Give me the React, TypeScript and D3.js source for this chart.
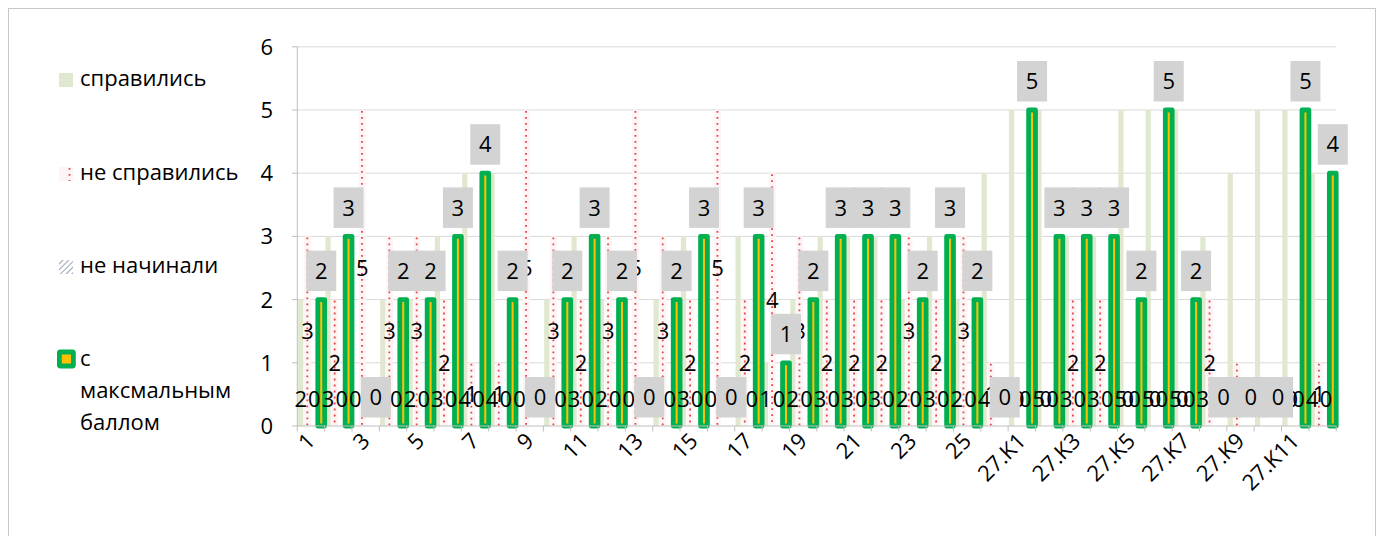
import * as d3 from 'd3'

// категории заданий
const categories = [
  '1', '2', '3', '4', '5', '6', '7', '8', '9', '10', '11', '12', '13',
  '14', '15', '16', '17', '18', '19', '20', '21', '22', '23', '24', '25', '26',
  '27.K1', '27.K2', '27.K3', '27.K4', '27.K5', '27.K6',
  '27.K7', '27.K8', '27.K9', '27.K10', '27.K11', '27.K12'
]

// справились
const passed = [2, 3, 0, 2, 2, 3, 4, 4, 0, 2, 3, 2, 0, 2, 3, 0, 3, 1, 2, 3, 3, 3, 2, 3, 2, 4,
  5, 5, 3, 3, 5, 5, 5, 3, 4, 5, 5, 4]
// не справились
const failed = [3, 2, 5, 3, 3, 2, 1, 1, 5, 3, 2, 3, 5, 3, 2, 5, 2, 4, 3, 2, 2, 2, 3, 2, 3, 1,
  0, 0, 2, 2, 0, 0, 0, 2, 1, 0, 0, 1]
// не начинали
const notStarted = [0, 0, 0, 0, 0, 0, 0, 0, 0, 0, 0, 0, 0, 0, 0, 0, 0, 0, 0, 0, 0, 0, 0, 0, 0, 0,
  0, 0, 0, 0, 0, 0, 0, 0, 0, 0, 0, 0]
// с максимальным баллом
const maxScore = [2, 3, 0, 2, 2, 3, 4, 2, 0, 2, 3, 2, 0, 2, 3, 0, 3, 1, 2, 3, 3, 3, 2, 3, 2, 0,
  5, 3, 3, 3, 2, 5, 2, 0, 0, 0, 5, 4]

const yTicks = [0, 1, 2, 3, 4, 5, 6]
const legendLabels = ['справились', 'не справились', 'не начинали', 'с максмальным баллом']

const FONT = "'Open Sans', sans-serif"
const FS = 22
const GREEN = '#00b050'
const YELLOW = '#ffc000'
const LIGHT = '#e0e9d0'
const RED = '#e8454a'
const BOX = '#d3d3d3'

export default function App() {
  const x = d3.scaleBand<string>().domain(categories).range([297.3, 1336.2]).paddingInner(0).paddingOuter(0)
  const sub = d3.scaleBand<string>().domain(['s', 'n', 'h', 'm']).range([0, x.bandwidth()])
  const y = d3.scaleLinear().domain([0, 6]).range([426, 46.8])
  const y0 = y(0)
  const sw = sub.bandwidth()

  const digitDy = 7.9 // baseline shift so that digits are centred
  const baseRowY = 399

  const sx = (c: string, k: string) => (x(c) as number) + (sub(k) as number)

  return (
    <svg width={1368} height={528} style={{ display: 'block' }} fontFamily={FONT} fontSize={FS}>
      <g transform="translate(-8,-8)">
        <rect x={8.5} y={8.5} width={1367} height={700} fill="#fff" stroke="#c8c8c8" />

        {/* grid */}
        {yTicks.filter(t => t > 0).map(t => (
          <line key={'g' + t} x1={297.3} x2={1336.2} y1={y(t)} y2={y(t)} stroke="#d9d9d9" strokeWidth={1} />
        ))}
        {/* y axis */}
        <line x1={297.3} x2={297.3} y1={y(6)} y2={y0} stroke="#bfbfbf" />
        {yTicks.map(t => (
          <g key={'yt' + t}>
            <line x1={292} x2={297.3} y1={y(t)} y2={y(t)} stroke="#bfbfbf" />
            <text x={273} y={y(t) + digitDy} textAnchor="end">{t}</text>
          </g>
        ))}

        {/* справились */}
        {categories.map((c, i) => (
          <rect key={'s' + c} x={sx(c, 's') + 0.8} width={sw - 1.6} y={y(passed[i])}
            height={y0 - y(passed[i])} fill={LIGHT} />
        ))}
        {/* не справились */}
        {categories.map((c, i) => failed[i] > 0 && (
          <g key={'n' + c}>
            <rect x={sx(c, 'n')} width={sw} y={y(failed[i])} height={y0 - y(failed[i])} fill="#fdf5f5" />
            <line x1={sx(c, 'n') + 3.2} x2={sx(c, 'n') + 3.2} y1={y(failed[i]) + 1} y2={y0}
              stroke={RED} strokeWidth={1.8} strokeDasharray="1.8 4.2" />
          </g>
        ))}
        {/* с максимальным баллом */}
        {categories.map((c, i) => maxScore[i] > 0 && (
          <rect key={'m' + c} x={sx(c, 'm')} width={sw} y={y(maxScore[i])}
            height={y0 - y(maxScore[i])} fill={YELLOW} stroke={GREEN} strokeWidth={4.8}
            strokeLinejoin="round" />
        ))}

        {/* x axis */}
        <line x1={297.3} x2={1336.2} y1={y0} y2={y0} stroke="#bfbfbf" />
        {[...categories.map(c => x(c) as number), 1336.2].map((v, i) => (
          <line key={'xt' + i} x1={v} x2={v} y1={y0} y2={y0 + 5.5} stroke="#bfbfbf" />
        ))}
        {categories.map((c, i) => i % 2 === 0 && (
          <text key={'xl' + c} textAnchor="end" dy="0.35em"
            transform={`translate(${(x(c) as number) + x.bandwidth() / 2},437) rotate(-45)`}>{c}</text>
        ))}

        {/* подписи: справились */}
        {categories.map((c, i) => (
          <text key={'sl' + c} x={sx(c, 's') + sw / 2} y={baseRowY + digitDy} textAnchor="middle">{passed[i]}</text>
        ))}
        {/* подписи: не справились */}
        {categories.map((c, i) => (
          <text key={'nl' + c} x={sx(c, 'n') + sw / 2}
            y={Math.min(y(failed[i] / 2), baseRowY) + digitDy} textAnchor="middle">{failed[i]}</text>
        ))}
        {/* подписи: не начинали */}
        {categories.map((c, i) => (
          <text key={'hl' + c} x={sx(c, 'h') + sw / 2} y={baseRowY + digitDy} textAnchor="middle">{notStarted[i]}</text>
        ))}
        {/* подписи: с максимальным баллом */}
        {categories.map((c, i) => {
          const cx = sx(c, 'm') + sw / 2
          const bottom = y(maxScore[i]) - 8.5
          return (
            <g key={'ml' + c}>
              <rect x={cx - 15} y={bottom - 40.5} width={30} height={40.5} fill={BOX} />
              <text x={cx} y={bottom - 20.25 + digitDy} textAnchor="middle">{maxScore[i]}</text>
            </g>
          )
        })}

        {/* legend */}
        <g>
          <rect x={59} y={73} width={14} height={14} fill={LIGHT} />
          <text x={80} y={86}>{legendLabels[0]}</text>

          <rect x={59} y={167} width={14} height={14} fill="#fdf5f5" />
          <line x1={69.5} x2={69.5} y1={168} y2={181} stroke={RED} strokeWidth={1.8} strokeDasharray="1.8 4.2" />
          <text x={80} y={179.5}>{legendLabels[1]}</text>

          <defs>
            <pattern id="hatch" patternUnits="userSpaceOnUse" width={4} height={4} patternTransform="rotate(45)">
              <rect width={4} height={4} fill="#fff" />
              <line x1={0} x2={0} y1={0} y2={4} stroke="#7f8fa9" strokeWidth={1.6} />
            </pattern>
          </defs>
          <rect x={59} y={260} width={14} height={14} fill="url(#hatch)" />
          <text x={80} y={272.6}>{legendLabels[2]}</text>

          <rect x={59.4} y={352} width={14} height={14} rx={1} fill={YELLOW} stroke={GREEN} strokeWidth={4.8} strokeLinejoin="round" />
          {legendLabels[3].split(' ').map((w, k) => (
            <text key={w} x={80} y={366 + k * 32}>{w}</text>
          ))}
        </g>
      </g>
    </svg>
  )
}
